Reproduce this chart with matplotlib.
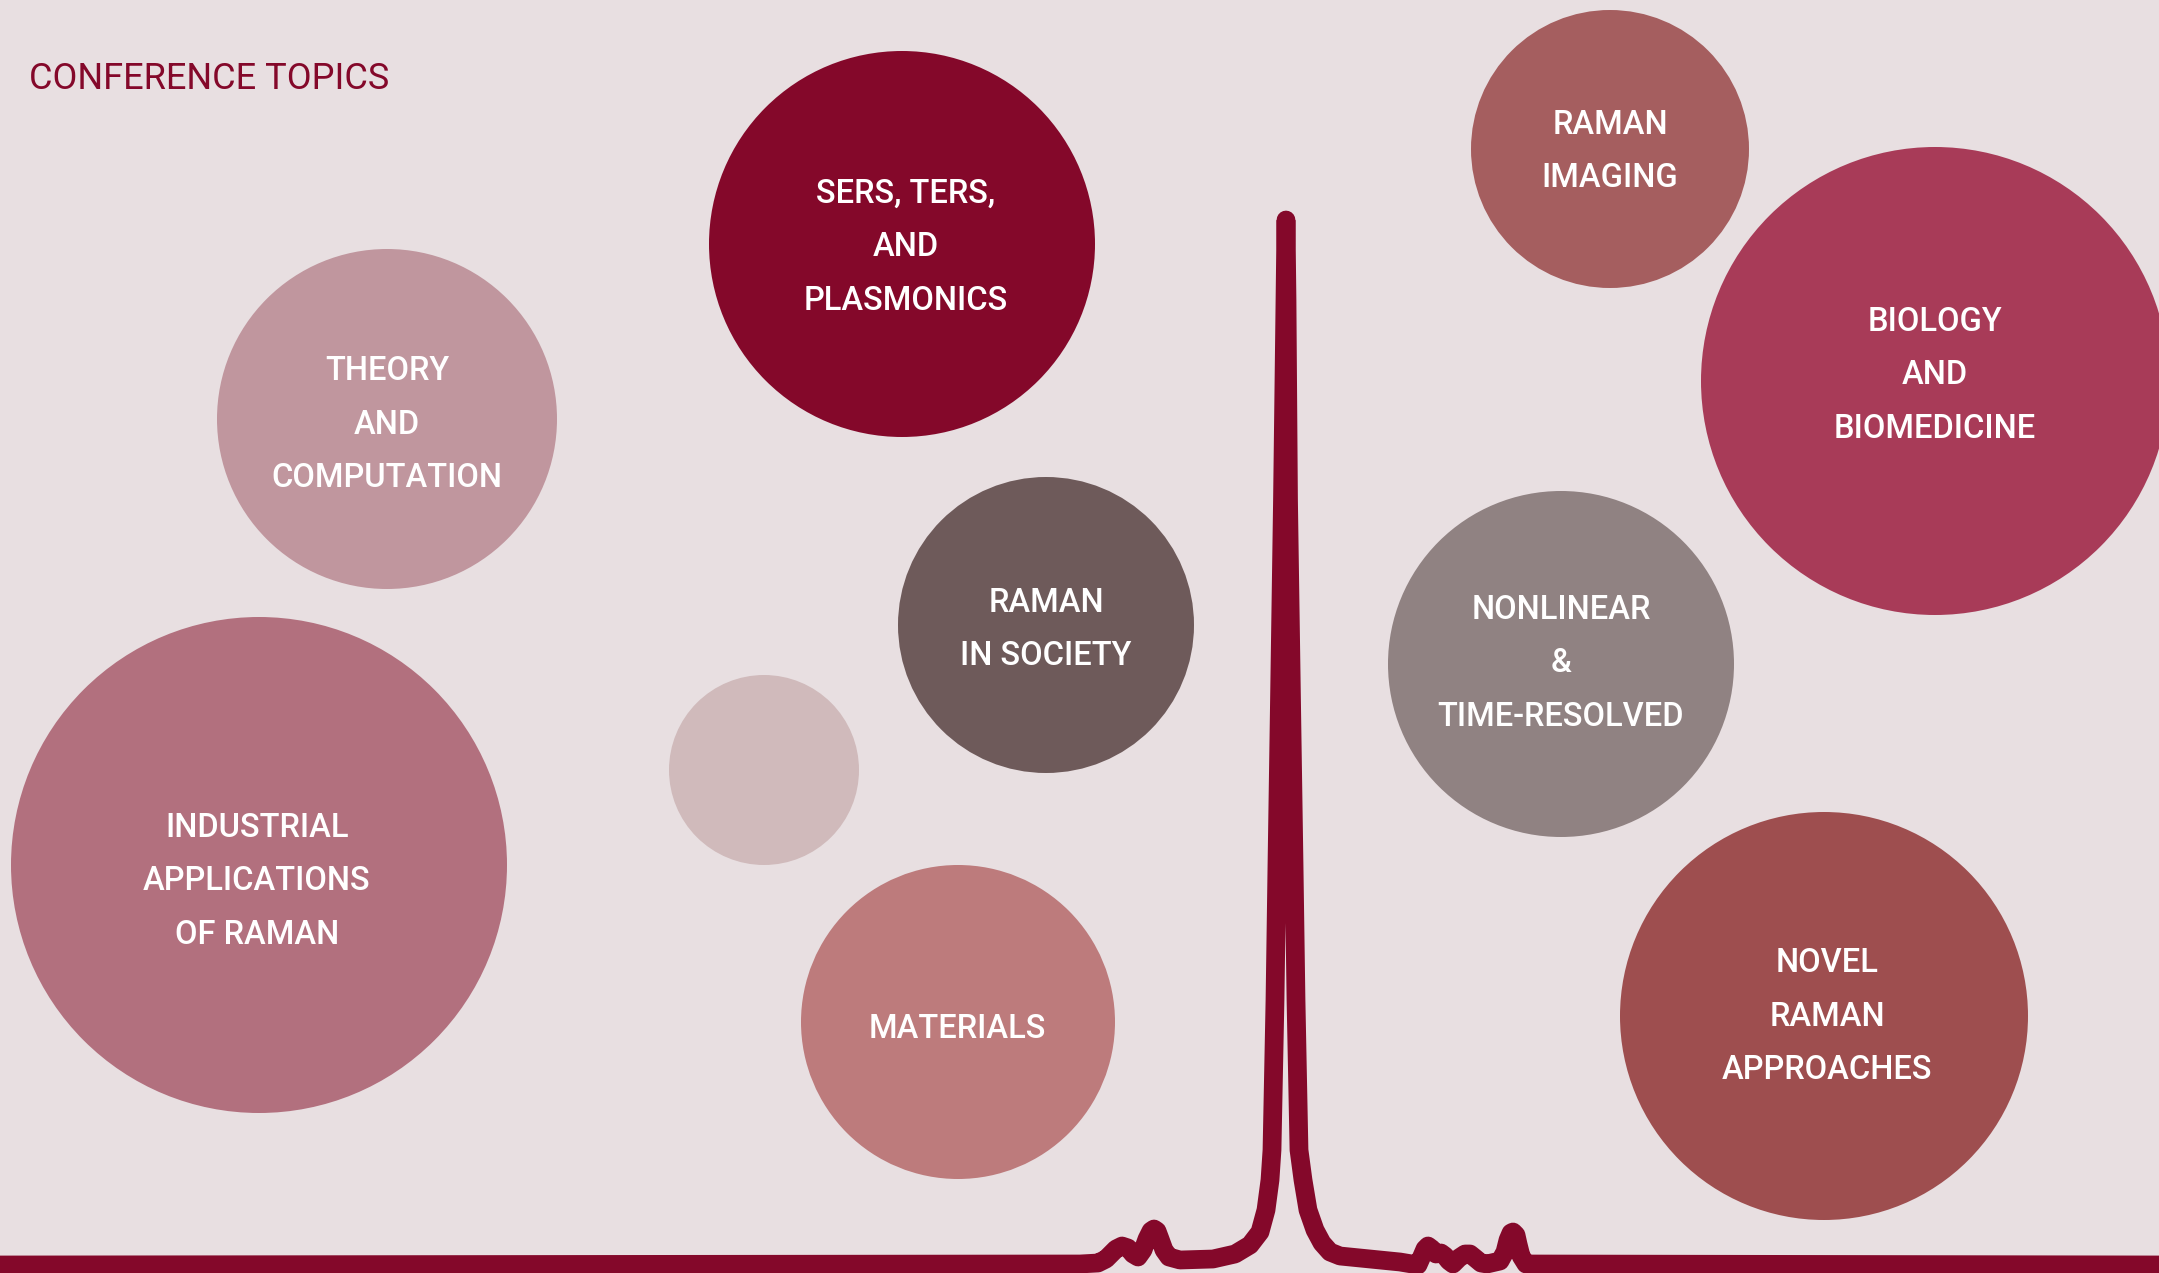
import matplotlib.pyplot as plt
from matplotlib.patches import Circle

# topics, bubble centres / radii (pixel units of the 2159x1273 canvas) and colours
topics = [
    ["INDUSTRIAL", "APPLICATIONS", "OF RAMAN"],
    ["THEORY", "AND", "COMPUTATION"],
    ["SERS, TERS,", "AND", "PLASMONICS"],
    ["RAMAN", "IN SOCIETY"],
    [],
    ["MATERIALS"],
    ["RAMAN", "IMAGING"],
    ["BIOLOGY", "AND", "BIOMEDICINE"],
    ["NONLINEAR", "&", "TIME-RESOLVED"],
    ["NOVEL", "RAMAN", "APPROACHES"],
]
bubble_x = [259, 387, 902, 1046, 764, 958, 1610, 1935, 1561, 1824]
bubble_y = [865, 419, 244, 625, 770, 1022, 149, 381, 664, 1016]
bubble_r = [248, 170, 193, 148, 95, 157, 139, 234, 173, 204]
bubble_colors = ['#B2707E', '#C0969E', '#84082A', '#6E5A5A', '#D0BABB',
                 '#BD7B7C', '#A55E5F', '#A83B58', '#908282', '#9E4E4F']
# where each label block is centred
label_x = [257, 387, 906, 1046, 764, 957, 1610, 1935, 1561, 1827]
label_y = [878, 421, 244, 626, 770, 1026, 148, 372, 660, 1013]

# traced Raman spectrum (x, y in canvas pixels)
spec_x = [-20, 1080, 1098, 1106, 1111, 1116, 1122, 1128, 1133, 1138, 1143, 1147,
          1151, 1154, 1157, 1160, 1164, 1169, 1180, 1213, 1235, 1250, 1260, 1266,
          1270, 1272, 1275, 1277, 1279.5, 1282.5, 1285, 1286, 1287, 1288.5, 1291.5,
          1294, 1296, 1299, 1303, 1308, 1315, 1322, 1330, 1340, 1370, 1400, 1418,
          1422, 1425, 1428, 1432, 1436, 1441, 1445, 1449, 1453, 1459, 1465, 1470,
          1475, 1481, 1487, 1500, 1505, 1508, 1511, 1513, 1516, 1518, 1521, 1526,
          2180]
spec_y = [1265, 1264, 1263, 1259, 1254, 1249, 1246, 1248, 1254, 1257, 1250, 1239,
          1231, 1229, 1231, 1239, 1250, 1257, 1260, 1259, 1254, 1245, 1232, 1210,
          1180, 1150, 1000, 863, 700, 500, 300, 220, 300, 500, 700,
          863, 1000, 1150, 1180, 1210, 1230, 1243, 1252, 1256, 1259, 1262, 1265,
          1256, 1249, 1246, 1249, 1254, 1253, 1256, 1261, 1264, 1258, 1254, 1254,
          1258, 1263, 1264, 1261, 1252, 1240, 1233, 1232, 1235, 1244, 1256, 1264,
          1265]

bg = '#E8DFE1'
wine = '#84082A'

fig = plt.figure(figsize=(21.59, 12.73), dpi=100, facecolor=bg)
ax = fig.add_axes([0, 0, 1, 1])
ax.set_facecolor(bg)
ax.set_xlim(0, 2159)
ax.set_ylim(1273, 0)
ax.axis('off')

line_gap = 53.5
for i, (x, y, r, c) in enumerate(zip(bubble_x, bubble_y, bubble_r, bubble_colors)):
    ax.add_patch(Circle((x, y), r, facecolor=c, edgecolor='none', zorder=1))
    lines = topics[i]
    n = len(lines)
    for k, txt in enumerate(lines):
        ax.text(label_x[i], label_y[i] + (k - (n - 1) / 2) * line_gap, txt,
                ha='center', va='center_baseline', fontsize=23.5, color='white',
                fontfamily='Roboto', fontweight='medium', zorder=3)

ax.plot(spec_x, spec_y, color=wine, linewidth=13.5, solid_capstyle='round',
        solid_joinstyle='round', zorder=2)

ax.text(29, 75, "CONFERENCE TOPICS", ha='left', va='center_baseline', fontsize=26,
        color=wine, fontfamily='Roboto', fontweight='normal')

plt.savefig("out.png", dpi=100, facecolor=bg)
